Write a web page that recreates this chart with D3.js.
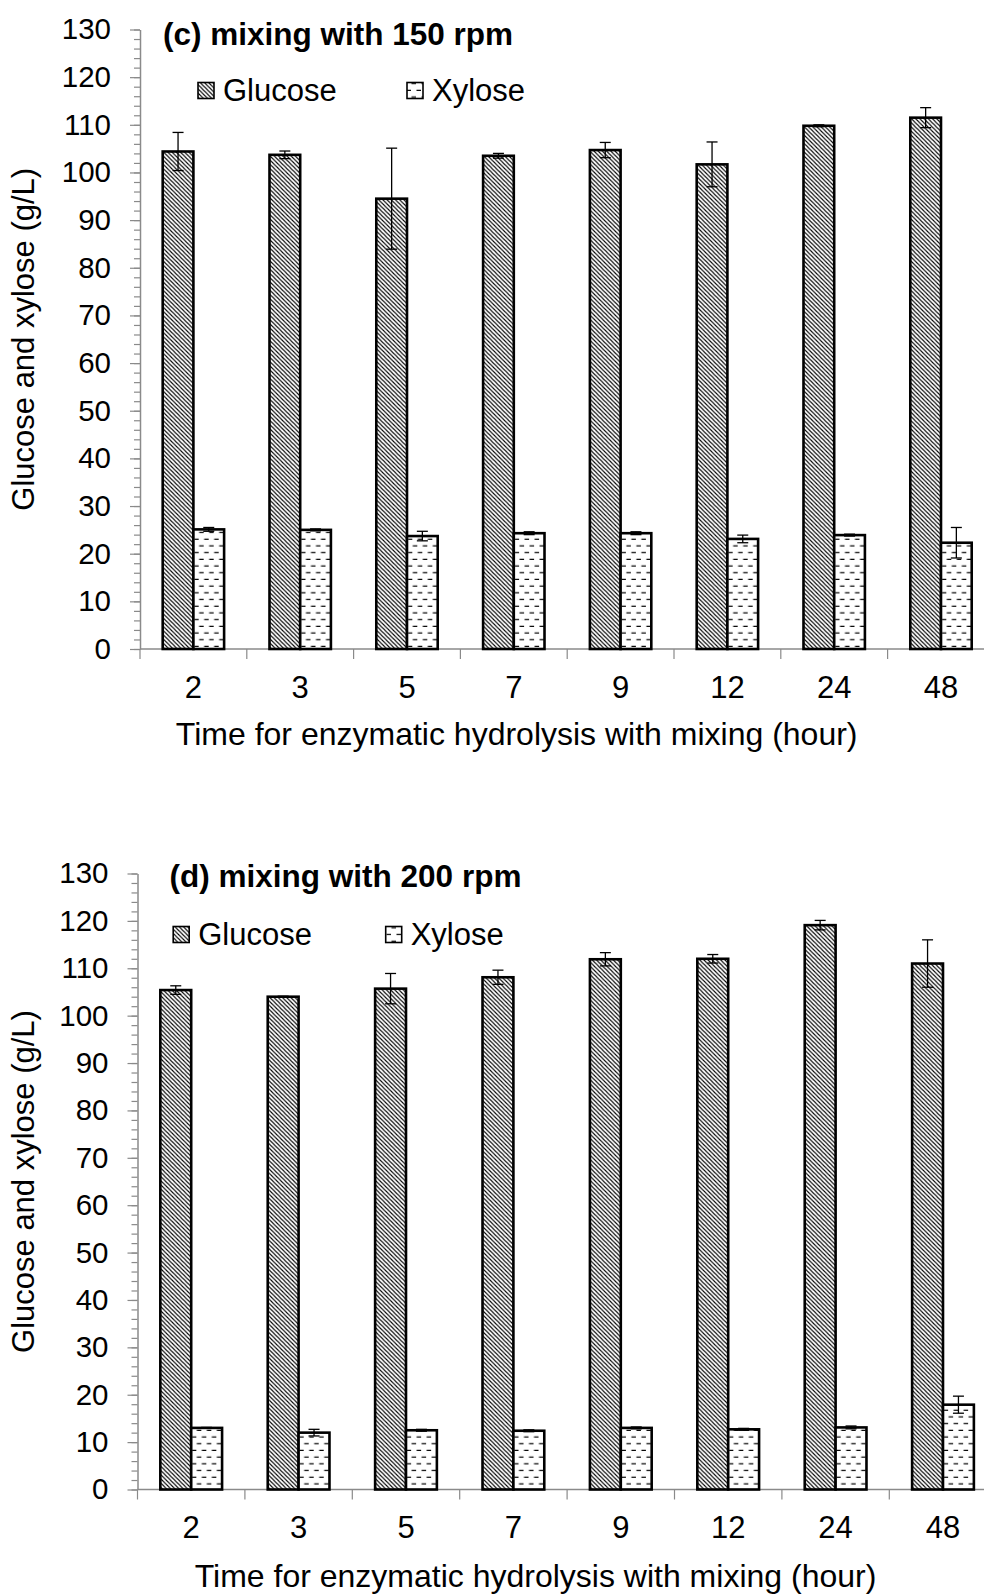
<!DOCTYPE html>
<html>
<head>
<meta charset="utf-8">
<script src="https://cdn.jsdelivr.net/npm/d3@7"></script>
<style>
  html, body { margin: 0; padding: 0; background: #fff; }
  svg { display: block; }
  text { font-family: "Liberation Sans", Arial, sans-serif; fill: #000; }
</style>
</head>
<body>
<svg id="chart" width="984" height="1595"></svg>
<script>
// ---------------- data ----------------
const categories = ["2", "3", "5", "7", "9", "12", "24", "48"];
const seriesNames = ["Glucose", "Xylose"];
const yTickValues = [0, 10, 20, 30, 40, 50, 60, 70, 80, 90, 100, 110, 120, 130];

const glucose150    = [104.4, 103.7, 94.5, 103.5, 104.7, 101.7, 109.8, 111.5];
const glucose150Err = [4.0, 0.8, 10.6, 0.5, 1.6, 4.7, 0.2, 2.1];
const xylose150     = [25.1, 25.0, 23.7, 24.3, 24.3, 23.1, 23.9, 22.3];
const xylose150Err  = [0.4, 0.2, 1.0, 0.3, 0.3, 0.8, 0.2, 3.2];

const glucose200    = [105.4, 104.0, 105.7, 108.1, 111.9, 112.0, 119.1, 111.0];
const glucose200Err = [0.9, 0.1, 3.2, 1.5, 1.4, 0.9, 1.0, 5.0];
const xylose200     = [13.0, 12.0, 12.5, 12.4, 13.0, 12.7, 13.1, 17.9];
const xylose200Err  = [0.1, 0.7, 0.2, 0.2, 0.2, 0.2, 0.3, 1.8];

const panelTitles = ["(c) mixing with 150 rpm", "(d) mixing with 200 rpm"];
const yAxisTitle = "Glucose and xylose (g/L)";
const xAxisTitle = "Time for enzymatic hydrolysis with mixing (hour)";

// ---------------- drawing ----------------
const svg = d3.select("#chart");
const defs = svg.append("defs");

// diagonal hatch (glucose)
const pd = defs.append("pattern").attr("id", "patGlucose")
  .attr("patternUnits", "userSpaceOnUse").attr("width", 4.2).attr("height", 4.2);
pd.append("rect").attr("width", 4.2).attr("height", 4.2).attr("fill", "#fff");
pd.append("path").attr("d", "M-1,-1 L5.2,5.2 M-1,3.2 L1,5.2 M3.2,-1 L5.2,1")
  .attr("stroke", "#000").attr("stroke-width", 1.1);

// dashed horizontal (xylose)
const px = defs.append("pattern").attr("id", "patXylose")
  .attr("patternUnits", "userSpaceOnUse").attr("width", 10).attr("height", 13.4);
px.append("rect").attr("width", 10).attr("height", 13.4).attr("fill", "#fff");
px.append("path").attr("d", "M1.5,3.3 H6 M6.5,10 H11 M-3.5,10 H1")
  .attr("stroke", "#000").attr("stroke-width", 1.2);

const fills = { Glucose: "url(#patGlucose)", Xylose: "url(#patXylose)" };

const panels = [
  { title: panelTitles[0], g: glucose150, ge: glucose150Err, xy: xylose150, xe: xylose150Err,
    axisX: 140, bandW: 106.8, yTop: 29.5, yBot: 649,
    titleX: 163, titleY: 45, legBoxY: 82.5, legTextY: 100.5, leg1X: 198, leg2X: 407,
    xTitleX: 516.7, xTitleY: 744.5 },
  { title: panelTitles[1], g: glucose200, ge: glucose200Err, xy: xylose200, xe: xylose200Err,
    axisX: 137.5, bandW: 107.4, yTop: 873.5, yBot: 1489.5,
    titleX: 169.6, titleY: 887, legBoxY: 926.5, legTextY: 944.5, leg1X: 173.2, leg2X: 385.7,
    xTitleX: 535.5, xTitleY: 1586.7 }
];

const axisColor = "#8a8a8a";

panels.forEach(p => {
  const g = svg.append("g");
  const x = d3.scaleBand().domain(categories)
    .range([p.axisX, p.axisX + p.bandW * categories.length]).padding(0);
  const groupW = x.bandwidth() * 0.575;
  const x1 = d3.scaleBand().domain(seriesNames).range([0, groupW]).padding(0);
  const groupOff = (x.bandwidth() - groupW) / 2;
  const y = d3.scaleLinear().domain([0, 130]).range([p.yBot, p.yTop]);

  // y axis minor ticks
  const minor = g.append("g").attr("transform", `translate(${p.axisX},0)`)
    .call(d3.axisLeft(y).tickValues(d3.range(0, 131, 2)).tickSize(6).tickSizeOuter(0).tickFormat(""));
  minor.select(".domain").attr("stroke", axisColor).attr("stroke-width", 1.5);
  minor.selectAll(".tick line").attr("stroke", axisColor).attr("stroke-width", 1.2);

  // y axis major ticks + labels
  const major = g.append("g").attr("transform", `translate(${p.axisX},0)`)
    .call(d3.axisLeft(y).tickValues(yTickValues).tickSize(10).tickSizeOuter(0).tickPadding(19));
  major.select(".domain").remove();
  major.selectAll(".tick line").attr("stroke", axisColor).attr("stroke-width", 1.2);
  major.selectAll(".tick text").attr("font-size", 29.5)
    .attr("font-family", '"Liberation Sans", Arial, sans-serif').attr("fill", "#000");

  // x axis line
  g.append("line")
    .attr("x1", p.axisX).attr("x2", x.range()[1])
    .attr("y1", y(0)).attr("y2", y(0))
    .attr("stroke", axisColor).attr("stroke-width", 1.5);
  // x ticks at band boundaries
  const bounds = categories.map(c => x(c)).concat([x.range()[1]]);
  g.selectAll(".xtick").data(bounds).enter().append("line")
    .attr("x1", d => d).attr("x2", d => d)
    .attr("y1", y(0)).attr("y2", y(0) + 10)
    .attr("stroke", axisColor).attr("stroke-width", 1.2);
  g.selectAll(".xlab").data(categories).enter().append("text")
    .attr("x", d => x(d) + x.bandwidth() / 2)
    .attr("y", y(0) + 48.5)
    .attr("text-anchor", "middle").attr("font-size", 31)
    .text(d => d);

  // bars
  const rows = categories.map((c, i) => ({ c, vals: [
    { s: "Glucose", v: p.g[i], e: p.ge[i] },
    { s: "Xylose", v: p.xy[i], e: p.xe[i] }
  ]}));
  const grp = g.selectAll(".cat").data(rows).enter().append("g")
    .attr("transform", d => `translate(${x(d.c) + groupOff},0)`);
  grp.selectAll("rect").data(d => d.vals).enter().append("rect")
    .attr("x", d => x1(d.s)).attr("width", x1.bandwidth())
    .attr("y", d => y(d.v)).attr("height", d => y(0) - y(d.v))
    .attr("fill", d => fills[d.s]).attr("stroke", "#000").attr("stroke-width", 2.6);

  // error bars
  const eb = grp.selectAll(".err").data(d => d.vals).enter().append("g");
  eb.append("line")
    .attr("x1", d => x1(d.s) + x1.bandwidth() / 2).attr("x2", d => x1(d.s) + x1.bandwidth() / 2)
    .attr("y1", d => y(d.v + d.e)).attr("y2", d => y(d.v - d.e))
    .attr("stroke", "#000").attr("stroke-width", 1.3);
  [1, -1].forEach(sgn => {
    eb.append("line")
      .attr("x1", d => x1(d.s) + x1.bandwidth() / 2 - 5.5).attr("x2", d => x1(d.s) + x1.bandwidth() / 2 + 5.5)
      .attr("y1", d => y(d.v + sgn * d.e)).attr("y2", d => y(d.v + sgn * d.e))
      .attr("stroke", "#000").attr("stroke-width", 1.3);
  });

  // title
  g.append("text").attr("x", p.titleX).attr("y", p.titleY)
    .attr("font-size", 31.5).attr("font-weight", "bold").text(p.title);

  // legend
  [[p.leg1X, "Glucose"], [p.leg2X, "Xylose"]].forEach(([lx, name]) => {
    g.append("rect").attr("x", lx).attr("y", p.legBoxY).attr("width", 16).attr("height", 16)
      .attr("fill", fills[name]).attr("stroke", "#000").attr("stroke-width", 1.6);
    g.append("text").attr("x", lx + 25).attr("y", p.legTextY)
      .attr("font-size", 31).text(name);
  });

  // axis titles
  g.append("text")
    .attr("transform", `translate(33.5,${(p.yTop + p.yBot) / 2}) rotate(-90)`)
    .attr("text-anchor", "middle").attr("font-size", 31).text(yAxisTitle);
  g.append("text").attr("x", p.xTitleX).attr("y", p.xTitleY)
    .attr("text-anchor", "middle").attr("font-size", 32).text(xAxisTitle);
});
</script>
</body>
</html>
